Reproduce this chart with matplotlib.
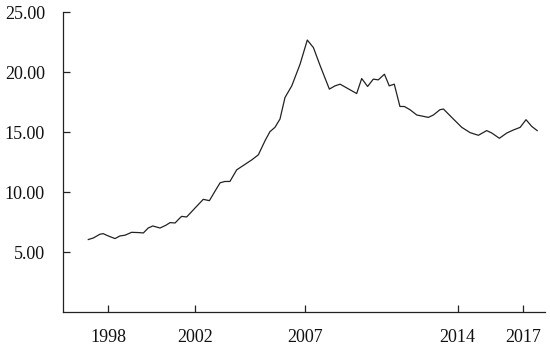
import matplotlib.pyplot as plt
from matplotlib.ticker import FormatStrFormatter

# values (decimal year, value)
years = [1997.10, 1997.33, 1997.63, 1997.78, 1998.01, 1998.32, 1998.55, 1998.78,
         1999.08, 1999.39, 1999.62, 1999.84, 2000.05, 2000.38, 2000.65, 2000.84,
         2001.07, 2001.26, 2001.37, 2001.60, 2001.98, 2002.36, 2002.64, 2002.90,
         2003.13, 2003.35, 2003.58, 2003.89, 2004.19, 2004.58, 2004.88, 2005.19,
         2005.41, 2005.64, 2005.87, 2006.10, 2006.41, 2006.79, 2007.12, 2007.40,
         2007.70, 2008.13, 2008.39, 2008.62, 2009.38, 2009.61, 2009.88, 2010.14,
         2010.37, 2010.65, 2010.87, 2011.10, 2011.36, 2011.56, 2011.82, 2012.13,
         2012.43, 2012.66, 2012.89, 2013.19, 2013.35, 2013.73, 2014.19, 2014.57,
         2014.95, 2015.33, 2015.56, 2015.91, 2016.25, 2016.55, 2016.86, 2017.13,
         2017.39, 2017.64]
values = [6.04, 6.17, 6.48, 6.53, 6.34, 6.12, 6.34, 6.40,
          6.64, 6.62, 6.59, 7.00, 7.17, 7.00, 7.23, 7.45,
          7.42, 7.78, 7.97, 7.92, 8.66, 9.39, 9.28, 10.08,
          10.77, 10.88, 10.88, 11.85, 12.21, 12.68, 13.10, 14.29,
          15.03, 15.39, 16.08, 17.88, 18.85, 20.66, 22.67, 22.04,
          20.57, 18.58, 18.85, 18.99, 18.21, 19.46, 18.80, 19.41,
          19.35, 19.82, 18.85, 18.99, 17.13, 17.13, 16.86, 16.42,
          16.31, 16.22, 16.42, 16.86, 16.92, 16.22, 15.39, 14.95,
          14.73, 15.12, 14.92, 14.48, 14.92, 15.17, 15.39, 16.03,
          15.47, 15.12]

xticks = [1998, 2002, 2007, 2014, 2017]
yticks = [5, 10, 15, 20, 25]

plt.rcParams['font.family'] = ['Liberation Serif', 'DejaVu Serif']

fig = plt.figure(figsize=(5.5, 3.45), dpi=100)
ax = fig.add_axes([0.1145, 0.0957, 0.8765, 0.8693])

ax.plot(years, values, color='#222222', linewidth=0.9)

ax.set_xlim(1995.94, 2018.0)
ax.set_ylim(0, 25)
ax.set_xticks(xticks)
ax.set_yticks(yticks)
ax.yaxis.set_major_formatter(FormatStrFormatter('%.2f'))

ax.spines['top'].set_visible(False)
ax.spines['right'].set_visible(False)
for s in ['left', 'bottom']:
    ax.spines[s].set_linewidth(0.9)
    ax.spines[s].set_color('#222222')

ax.tick_params(axis='both', direction='in', length=5, width=0.9,
               color='#222222', labelsize=13, labelcolor='#111111')
ax.tick_params(axis='y', pad=13)
ax.tick_params(axis='x', pad=12)

fig.savefig('out.png', dpi=100)
